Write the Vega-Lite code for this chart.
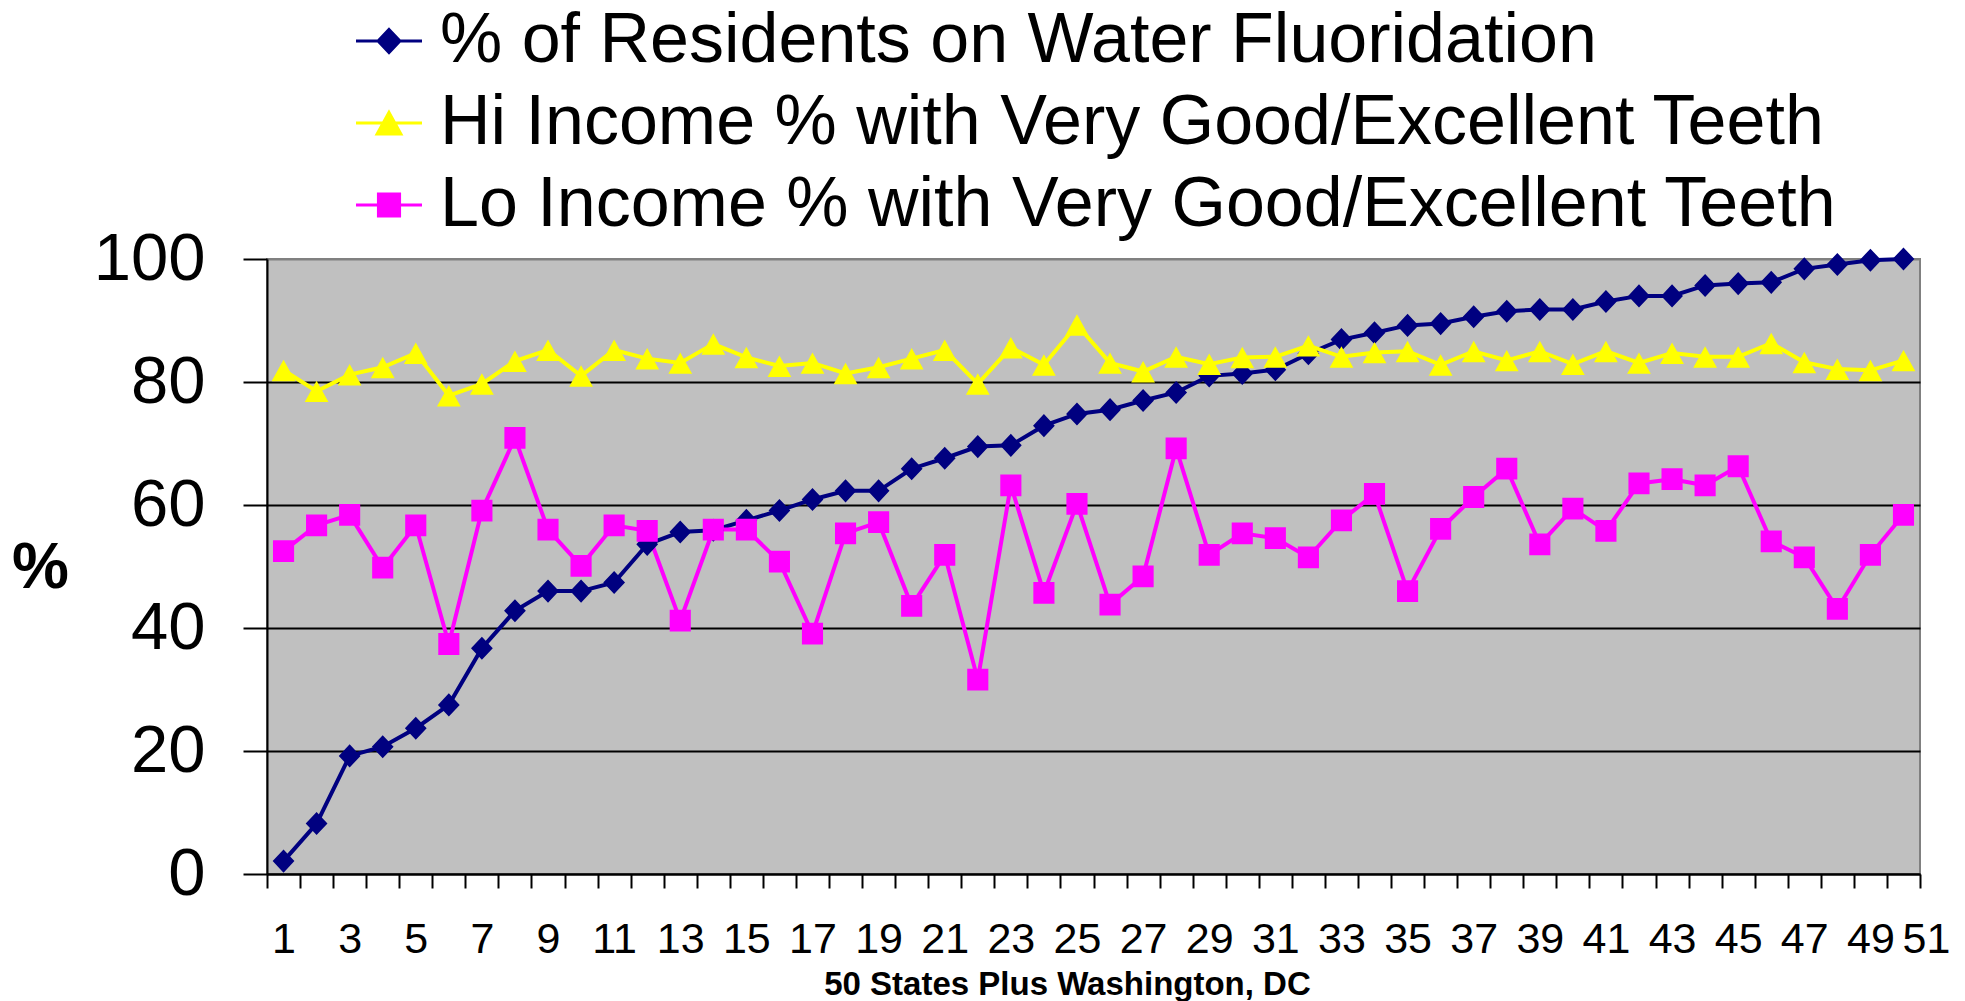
{
  "$schema": "https://vega.github.io/schema/vega-lite/v6.json",
  "autosize": "none",
  "width": 1653,
  "height": 615,
  "padding": {"left": 267, "top": 259, "right": 45, "bottom": 127},
  "background": "white",
  "config": {
    "font": "Liberation Sans, Arial, sans-serif",
    "view": {"fill": "#C0C0C0", "stroke": "#808080", "strokeWidth": 2},
    "legend": {
      "orient": "none",
      "legendX": 87,
      "legendY": -253,
      "padding": 0,
      "symbolSize": 4356,
      "symbolStrokeWidth": 3,
      "labelFont": "Liberation Sans, Arial, sans-serif",
      "labelFontSize": 70,
      "labelColor": "black",
      "labelLimit": 3000,
      "labelOffset": 16,
      "rowPadding": 12
    }
  },
  "data": {
    "values": [
      {"state": 1, "series": "% of Residents on Water Fluoridation", "value": 2.1},
      {"state": 2, "series": "% of Residents on Water Fluoridation", "value": 8.2},
      {"state": 3, "series": "% of Residents on Water Fluoridation", "value": 19.2},
      {"state": 4, "series": "% of Residents on Water Fluoridation", "value": 20.7},
      {"state": 5, "series": "% of Residents on Water Fluoridation", "value": 23.7},
      {"state": 6, "series": "% of Residents on Water Fluoridation", "value": 27.5},
      {"state": 7, "series": "% of Residents on Water Fluoridation", "value": 36.7},
      {"state": 8, "series": "% of Residents on Water Fluoridation", "value": 42.8},
      {"state": 9, "series": "% of Residents on Water Fluoridation", "value": 46.0},
      {"state": 10, "series": "% of Residents on Water Fluoridation", "value": 46.0},
      {"state": 11, "series": "% of Residents on Water Fluoridation", "value": 47.4},
      {"state": 12, "series": "% of Residents on Water Fluoridation", "value": 53.6},
      {"state": 13, "series": "% of Residents on Water Fluoridation", "value": 55.6},
      {"state": 14, "series": "% of Residents on Water Fluoridation", "value": 55.9},
      {"state": 15, "series": "% of Residents on Water Fluoridation", "value": 57.5},
      {"state": 16, "series": "% of Residents on Water Fluoridation", "value": 59.1},
      {"state": 17, "series": "% of Residents on Water Fluoridation", "value": 60.9},
      {"state": 18, "series": "% of Residents on Water Fluoridation", "value": 62.3},
      {"state": 19, "series": "% of Residents on Water Fluoridation", "value": 62.3},
      {"state": 20, "series": "% of Residents on Water Fluoridation", "value": 65.9},
      {"state": 21, "series": "% of Residents on Water Fluoridation", "value": 67.6},
      {"state": 22, "series": "% of Residents on Water Fluoridation", "value": 69.5},
      {"state": 23, "series": "% of Residents on Water Fluoridation", "value": 69.7},
      {"state": 24, "series": "% of Residents on Water Fluoridation", "value": 72.9},
      {"state": 25, "series": "% of Residents on Water Fluoridation", "value": 74.8},
      {"state": 26, "series": "% of Residents on Water Fluoridation", "value": 75.5},
      {"state": 27, "series": "% of Residents on Water Fluoridation", "value": 77.0},
      {"state": 28, "series": "% of Residents on Water Fluoridation", "value": 78.3},
      {"state": 29, "series": "% of Residents on Water Fluoridation", "value": 81.0},
      {"state": 30, "series": "% of Residents on Water Fluoridation", "value": 81.4},
      {"state": 31, "series": "% of Residents on Water Fluoridation", "value": 82.0},
      {"state": 32, "series": "% of Residents on Water Fluoridation", "value": 84.6},
      {"state": 33, "series": "% of Residents on Water Fluoridation", "value": 86.9},
      {"state": 34, "series": "% of Residents on Water Fluoridation", "value": 88.0},
      {"state": 35, "series": "% of Residents on Water Fluoridation", "value": 89.2},
      {"state": 36, "series": "% of Residents on Water Fluoridation", "value": 89.5},
      {"state": 37, "series": "% of Residents on Water Fluoridation", "value": 90.6},
      {"state": 38, "series": "% of Residents on Water Fluoridation", "value": 91.5},
      {"state": 39, "series": "% of Residents on Water Fluoridation", "value": 91.8},
      {"state": 40, "series": "% of Residents on Water Fluoridation", "value": 91.8},
      {"state": 41, "series": "% of Residents on Water Fluoridation", "value": 93.1},
      {"state": 42, "series": "% of Residents on Water Fluoridation", "value": 94.0},
      {"state": 43, "series": "% of Residents on Water Fluoridation", "value": 94.0},
      {"state": 44, "series": "% of Residents on Water Fluoridation", "value": 95.7},
      {"state": 45, "series": "% of Residents on Water Fluoridation", "value": 96.0},
      {"state": 46, "series": "% of Residents on Water Fluoridation", "value": 96.2},
      {"state": 47, "series": "% of Residents on Water Fluoridation", "value": 98.4},
      {"state": 48, "series": "% of Residents on Water Fluoridation", "value": 99.1},
      {"state": 49, "series": "% of Residents on Water Fluoridation", "value": 99.8},
      {"state": 50, "series": "% of Residents on Water Fluoridation", "value": 100},
      {"state": 1, "series": "Hi Income % with Very Good/Excellent Teeth", "value": 81.9},
      {"state": 2, "series": "Hi Income % with Very Good/Excellent Teeth", "value": 78.5},
      {"state": 3, "series": "Hi Income % with Very Good/Excellent Teeth", "value": 81.2},
      {"state": 4, "series": "Hi Income % with Very Good/Excellent Teeth", "value": 82.4},
      {"state": 5, "series": "Hi Income % with Very Good/Excellent Teeth", "value": 84.7},
      {"state": 6, "series": "Hi Income % with Very Good/Excellent Teeth", "value": 77.8},
      {"state": 7, "series": "Hi Income % with Very Good/Excellent Teeth", "value": 79.7},
      {"state": 8, "series": "Hi Income % with Very Good/Excellent Teeth", "value": 83.4},
      {"state": 9, "series": "Hi Income % with Very Good/Excellent Teeth", "value": 85.2},
      {"state": 10, "series": "Hi Income % with Very Good/Excellent Teeth", "value": 81.0},
      {"state": 11, "series": "Hi Income % with Very Good/Excellent Teeth", "value": 85.2},
      {"state": 12, "series": "Hi Income % with Very Good/Excellent Teeth", "value": 83.8},
      {"state": 13, "series": "Hi Income % with Very Good/Excellent Teeth", "value": 83.1},
      {"state": 14, "series": "Hi Income % with Very Good/Excellent Teeth", "value": 86.2},
      {"state": 15, "series": "Hi Income % with Very Good/Excellent Teeth", "value": 84.0},
      {"state": 16, "series": "Hi Income % with Very Good/Excellent Teeth", "value": 82.6},
      {"state": 17, "series": "Hi Income % with Very Good/Excellent Teeth", "value": 83.1},
      {"state": 18, "series": "Hi Income % with Very Good/Excellent Teeth", "value": 81.4},
      {"state": 19, "series": "Hi Income % with Very Good/Excellent Teeth", "value": 82.4},
      {"state": 20, "series": "Hi Income % with Very Good/Excellent Teeth", "value": 83.8},
      {"state": 21, "series": "Hi Income % with Very Good/Excellent Teeth", "value": 85.2},
      {"state": 22, "series": "Hi Income % with Very Good/Excellent Teeth", "value": 79.7},
      {"state": 23, "series": "Hi Income % with Very Good/Excellent Teeth", "value": 85.6},
      {"state": 24, "series": "Hi Income % with Very Good/Excellent Teeth", "value": 82.8},
      {"state": 25, "series": "Hi Income % with Very Good/Excellent Teeth", "value": 89.3},
      {"state": 26, "series": "Hi Income % with Very Good/Excellent Teeth", "value": 83.1},
      {"state": 27, "series": "Hi Income % with Very Good/Excellent Teeth", "value": 81.7},
      {"state": 28, "series": "Hi Income % with Very Good/Excellent Teeth", "value": 84.1},
      {"state": 29, "series": "Hi Income % with Very Good/Excellent Teeth", "value": 82.9},
      {"state": 30, "series": "Hi Income % with Very Good/Excellent Teeth", "value": 84.0},
      {"state": 31, "series": "Hi Income % with Very Good/Excellent Teeth", "value": 84.1},
      {"state": 32, "series": "Hi Income % with Very Good/Excellent Teeth", "value": 85.9},
      {"state": 33, "series": "Hi Income % with Very Good/Excellent Teeth", "value": 84.1},
      {"state": 34, "series": "Hi Income % with Very Good/Excellent Teeth", "value": 84.8},
      {"state": 35, "series": "Hi Income % with Very Good/Excellent Teeth", "value": 85.0},
      {"state": 36, "series": "Hi Income % with Very Good/Excellent Teeth", "value": 82.8},
      {"state": 37, "series": "Hi Income % with Very Good/Excellent Teeth", "value": 85.0},
      {"state": 38, "series": "Hi Income % with Very Good/Excellent Teeth", "value": 83.5},
      {"state": 39, "series": "Hi Income % with Very Good/Excellent Teeth", "value": 85.0},
      {"state": 40, "series": "Hi Income % with Very Good/Excellent Teeth", "value": 82.9},
      {"state": 41, "series": "Hi Income % with Very Good/Excellent Teeth", "value": 85.0},
      {"state": 42, "series": "Hi Income % with Very Good/Excellent Teeth", "value": 83.1},
      {"state": 43, "series": "Hi Income % with Very Good/Excellent Teeth", "value": 84.7},
      {"state": 44, "series": "Hi Income % with Very Good/Excellent Teeth", "value": 84.1},
      {"state": 45, "series": "Hi Income % with Very Good/Excellent Teeth", "value": 84.1},
      {"state": 46, "series": "Hi Income % with Very Good/Excellent Teeth", "value": 86.3},
      {"state": 47, "series": "Hi Income % with Very Good/Excellent Teeth", "value": 83.2},
      {"state": 48, "series": "Hi Income % with Very Good/Excellent Teeth", "value": 82.1},
      {"state": 49, "series": "Hi Income % with Very Good/Excellent Teeth", "value": 81.9},
      {"state": 50, "series": "Hi Income % with Very Good/Excellent Teeth", "value": 83.5},
      {"state": 1, "series": "Lo Income % with Very Good/Excellent Teeth", "value": 52.5},
      {"state": 2, "series": "Lo Income % with Very Good/Excellent Teeth", "value": 56.7},
      {"state": 3, "series": "Lo Income % with Very Good/Excellent Teeth", "value": 58.4},
      {"state": 4, "series": "Lo Income % with Very Good/Excellent Teeth", "value": 49.8},
      {"state": 5, "series": "Lo Income % with Very Good/Excellent Teeth", "value": 56.7},
      {"state": 6, "series": "Lo Income % with Very Good/Excellent Teeth", "value": 37.4},
      {"state": 7, "series": "Lo Income % with Very Good/Excellent Teeth", "value": 59.1},
      {"state": 8, "series": "Lo Income % with Very Good/Excellent Teeth", "value": 70.9},
      {"state": 9, "series": "Lo Income % with Very Good/Excellent Teeth", "value": 56.0},
      {"state": 10, "series": "Lo Income % with Very Good/Excellent Teeth", "value": 50.1},
      {"state": 11, "series": "Lo Income % with Very Good/Excellent Teeth", "value": 56.7},
      {"state": 12, "series": "Lo Income % with Very Good/Excellent Teeth", "value": 55.8},
      {"state": 13, "series": "Lo Income % with Very Good/Excellent Teeth", "value": 41.2},
      {"state": 14, "series": "Lo Income % with Very Good/Excellent Teeth", "value": 56.0},
      {"state": 15, "series": "Lo Income % with Very Good/Excellent Teeth", "value": 56.0},
      {"state": 16, "series": "Lo Income % with Very Good/Excellent Teeth", "value": 50.8},
      {"state": 17, "series": "Lo Income % with Very Good/Excellent Teeth", "value": 39.1},
      {"state": 18, "series": "Lo Income % with Very Good/Excellent Teeth", "value": 55.4},
      {"state": 19, "series": "Lo Income % with Very Good/Excellent Teeth", "value": 57.2},
      {"state": 20, "series": "Lo Income % with Very Good/Excellent Teeth", "value": 43.6},
      {"state": 21, "series": "Lo Income % with Very Good/Excellent Teeth", "value": 51.9},
      {"state": 22, "series": "Lo Income % with Very Good/Excellent Teeth", "value": 31.6},
      {"state": 23, "series": "Lo Income % with Very Good/Excellent Teeth", "value": 63.2},
      {"state": 24, "series": "Lo Income % with Very Good/Excellent Teeth", "value": 45.7},
      {"state": 25, "series": "Lo Income % with Very Good/Excellent Teeth", "value": 60.2},
      {"state": 26, "series": "Lo Income % with Very Good/Excellent Teeth", "value": 43.8},
      {"state": 27, "series": "Lo Income % with Very Good/Excellent Teeth", "value": 48.4},
      {"state": 28, "series": "Lo Income % with Very Good/Excellent Teeth", "value": 69.2},
      {"state": 29, "series": "Lo Income % with Very Good/Excellent Teeth", "value": 51.9},
      {"state": 30, "series": "Lo Income % with Very Good/Excellent Teeth", "value": 55.4},
      {"state": 31, "series": "Lo Income % with Very Good/Excellent Teeth", "value": 54.6},
      {"state": 32, "series": "Lo Income % with Very Good/Excellent Teeth", "value": 51.5},
      {"state": 33, "series": "Lo Income % with Very Good/Excellent Teeth", "value": 57.5},
      {"state": 34, "series": "Lo Income % with Very Good/Excellent Teeth", "value": 61.8},
      {"state": 35, "series": "Lo Income % with Very Good/Excellent Teeth", "value": 46.0},
      {"state": 36, "series": "Lo Income % with Very Good/Excellent Teeth", "value": 56.1},
      {"state": 37, "series": "Lo Income % with Very Good/Excellent Teeth", "value": 61.3},
      {"state": 38, "series": "Lo Income % with Very Good/Excellent Teeth", "value": 65.9},
      {"state": 39, "series": "Lo Income % with Very Good/Excellent Teeth", "value": 53.6},
      {"state": 40, "series": "Lo Income % with Very Good/Excellent Teeth", "value": 59.4},
      {"state": 41, "series": "Lo Income % with Very Good/Excellent Teeth", "value": 55.8},
      {"state": 42, "series": "Lo Income % with Very Good/Excellent Teeth", "value": 63.5},
      {"state": 43, "series": "Lo Income % with Very Good/Excellent Teeth", "value": 64.2},
      {"state": 44, "series": "Lo Income % with Very Good/Excellent Teeth", "value": 63.2},
      {"state": 45, "series": "Lo Income % with Very Good/Excellent Teeth", "value": 66.3},
      {"state": 46, "series": "Lo Income % with Very Good/Excellent Teeth", "value": 54.1},
      {"state": 47, "series": "Lo Income % with Very Good/Excellent Teeth", "value": 51.5},
      {"state": 48, "series": "Lo Income % with Very Good/Excellent Teeth", "value": 43.1},
      {"state": 49, "series": "Lo Income % with Very Good/Excellent Teeth", "value": 51.9},
      {"state": 50, "series": "Lo Income % with Very Good/Excellent Teeth", "value": 58.4}
    ]
  },
  "resolve": {"axis": {"x": "independent"}},
  "layer": [
    {
      "mark": {"type": "line", "strokeWidth": 4, "clip": false},
      "encoding": {
        "x": {
          "field": "state", "type": "quantitative",
          "scale": {"domain": [0.5, 50.5], "nice": false, "zero": false},
          "axis": {
            "orient": "bottom",
            "values": [0.5,1.5,2.5,3.5,4.5,5.5,6.5,7.5,8.5,9.5,10.5,11.5,12.5,13.5,14.5,15.5,16.5,17.5,18.5,19.5,20.5,21.5,22.5,23.5,24.5,25.5,26.5,27.5,28.5,29.5,30.5,31.5,32.5,33.5,34.5,35.5,36.5,37.5,38.5,39.5,40.5,41.5,42.5,43.5,44.5,45.5,46.5,47.5,48.5,49.5,50.5],
            "labels": false,
            "grid": false,
            "ticks": true,
            "tickSize": 14,
            "tickColor": "black",
            "tickWidth": 2,
            "domain": true,
            "domainColor": "black",
            "domainWidth": 2,
            "title": "50 States Plus Washington, DC",
            "titleFont": "Liberation Sans, Arial, sans-serif",
            "titleFontSize": 33,
            "titleFontWeight": "bold",
            "titleColor": "black",
            "titleX": 800,
            "titleY": 120,
            "titleBaseline": "alphabetic",
            "titleAlign": "center"
          }
        },
        "y": {
          "field": "value", "type": "quantitative",
          "scale": {"domain": [0, 100], "nice": false},
          "axis": {
            "values": [0, 20, 40, 60, 80, 100],
            "grid": true,
            "gridColor": {"condition": {"test": "datum.value >= 100", "value": "#808080"}, "value": "black"},
            "gridWidth": 2,
            "gridOpacity": 1,
            "ticks": true,
            "tickSize": 24,
            "tickColor": "black",
            "tickWidth": 2,
            "domain": true,
            "domainColor": "black",
            "domainWidth": 2,
            "labelFont": "Liberation Sans, Arial, sans-serif",
            "labelFontSize": 67,
            "labelColor": "black",
            "labelPadding": 38,
            "labelBaseline": "middle",
            "labelFlush": false,
            "labelBound": false,
            "labelOverlap": false,
            "title": "%",
            "titleFont": "Liberation Sans, Arial, sans-serif",
            "titleFontSize": 64,
            "titleFontWeight": "bold",
            "titleColor": "black",
            "titleAngle": 0,
            "titleAlign": "center",
            "titleBaseline": "middle",
            "titleX": -227,
            "titleY": 309
          }
        },
        "stroke": {
          "field": "series", "type": "nominal",
          "scale": {
            "domain": ["% of Residents on Water Fluoridation", "Hi Income % with Very Good/Excellent Teeth", "Lo Income % with Very Good/Excellent Teeth"],
            "range": ["#000080", "#FFFF00", "#FF00FF"]
          },
          "legend": {"title": null}
        },
        "order": {"field": "state", "type": "quantitative"}
      }
    },
    {
      "mark": {"type": "point", "filled": true, "opacity": 1, "size": 4356, "clip": false},
      "encoding": {
        "x": {
          "field": "state", "type": "quantitative",
          "axis": {
            "orient": "bottom",
            "values": [1,3,5,7,9,11,13,15,17,19,21,23,25,27,29,31,33,35,37,39,41,43,45,47,49,50.5],
            "labelExpr": "datum.value > 50 ? '51' : format(datum.value, 'd')",
            "labelOffset": {"condition": {"test": "datum.value > 50", "value": 6}, "value": 0},
            "ticks": false,
            "tickSize": 0,
            "domain": false,
            "grid": false,
            "labelFont": "Liberation Sans, Arial, sans-serif",
            "labelFontSize": 43,
            "labelColor": "black",
            "labelPadding": 44,
            "labelBaseline": "top",
            "labelFlush": false,
            "labelBound": false,
            "labelOverlap": false,
            "title": null
          }
        },
        "y": {"field": "value", "type": "quantitative"},
        "color": {
          "field": "series", "type": "nominal",
          "scale": {
            "domain": ["% of Residents on Water Fluoridation", "Hi Income % with Very Good/Excellent Teeth", "Lo Income % with Very Good/Excellent Teeth"],
            "range": ["#000080", "#FFFF00", "#FF00FF"]
          },
          "legend": {"title": null}
        },
        "shape": {
          "field": "series", "type": "nominal",
          "scale": {
            "domain": ["% of Residents on Water Fluoridation", "Hi Income % with Very Good/Excellent Teeth", "Lo Income % with Very Good/Excellent Teeth"],
            "range": [
              "M-1,0H1M0,-0.35L0.33,0L0,0.35L-0.33,0Z",
              "M-1,0H1M0,-0.32L0.36,0.33L-0.36,0.33Z",
              "M-1,0H1M-0.32,-0.33H0.32V0.33H-0.32Z"
            ]
          },
          "legend": {"title": null}
        }
      }
    }
  ]
}
